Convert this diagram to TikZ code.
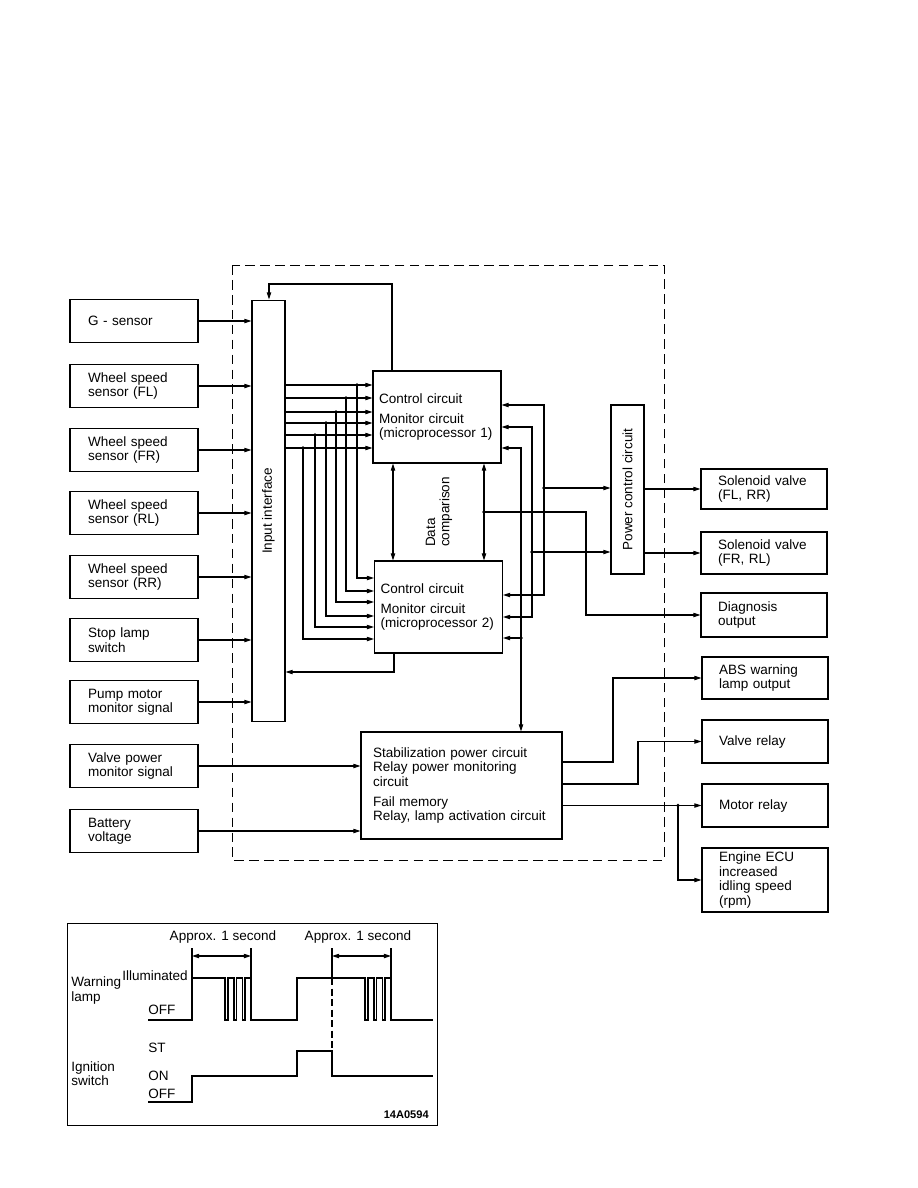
\documentclass[tikz,border=0pt]{standalone}
\usepackage{fontspec}
\setmainfont{Liberation Sans}
\usetikzlibrary{arrows.meta}

\tikzset{
  box/.style={draw, align=left, inner ysep=0pt},
  lbox/.style={box, minimum height=0.86cm, text width=1.84cm, inner xsep=0.36cm},
  rbox/.style={box, text width=1.84cm, inner xsep=0.34cm},
  mbox/.style={box, minimum width=2.56cm, minimum height=1.84cm, text width=2.32cm, inner xsep=0.12cm},
  bar/.style={draw, minimum width=0.66cm, inner sep=0pt},
  lbl/.style={inner sep=1pt},
}

\begin{document}
\begin{tikzpicture}[x=0.02cm, y=-0.02cm, line width=0.6pt,
    >={Triangle[length=4pt,width=2.4pt]}, font=\fontsize{7.7}{8.2}\selectfont]
    \useasboundingbox (0,0) rectangle (918,1188);
    % 控制单元虚线框
    \draw[line width=0.5pt, dash pattern=on 5.5pt off 3pt] (232,265) rectangle (664,860);

    % 输入
    \node[lbox] (gs) at (134,321) {G - sensor};
    \node[lbox] (fl) at (134,386) {Wheel speed\\sensor (FL)};
    \node[lbox] (fr) at (134,450) {Wheel speed\\sensor (FR)};
    \node[lbox] (rl) at (134,513) {Wheel speed\\sensor (RL)};
    \node[lbox] (rr) at (134,577) {Wheel speed\\sensor (RR)};
    \node[lbox] (sl) at (134,640) {Stop lamp\\switch};
    \node[lbox] (pm) at (134,702) {Pump motor\\monitor signal};
    \node[lbox] (vp) at (134,766) {Valve power\\monitor signal};
    \node[lbox] (bv) at (134,831) {Battery\\voltage};

    \node[bar, minimum height=8.44cm] (ii) at (268.5,511) {};
    \node[rotate=90] (iitxt) at (ii) {Input interface};
    \foreach \s in {gs,fl,fr,rl,rr,sl,pm}
        \draw[->] (\s.east) -- (\s.east -| ii.west);

    % 两个微处理器
    \node[mbox] (mp1) at (437,417) {Control circuit\\[3pt]Monitor circuit\\(microprocessor 1)};
    \node[mbox] (mp2) at (438.5,607) {Control circuit\\[3pt]Monitor circuit\\(microprocessor 2)};
    \foreach \ya/\xb/\yb in {385/357/578, 398/346/591, 412/336/602, 423/326/616, 435/315/627, 448/303/639} {
        \draw[->] (ii.east |- 0,\ya) -- (mp1.west |- 0,\ya);
        \draw[->] (\xb,\ya) -- (\xb,\yb) -- (mp2.west |- 0,\yb);
        \fill (\xb,\ya) circle (1.1pt);
    }
    \draw[->] (392,0 |- mp1.north) -- (392,284) -| (269,0 |- ii.north);
    \draw[->] (394,0 |- mp2.south) |- (ii.east |- 0,672);

    \draw[<->] (393,0 |- mp1.south) -- (393,0 |- mp2.north);
    \draw[<->] (484,0 |- mp1.south) -- (484,0 |- mp2.north);
    \node[rotate=90, align=left] (dc) at (439,512) {Data\\comparison};

    % 输出
    \node[bar, minimum height=3.38cm] (pc) at (627.5,489.5) {};
    \node[rotate=90] (pctxt) at (pc) {Power control circuit};
    \node[rbox, minimum height=0.80cm] (sv1) at (764,489) {Solenoid valve\\(FL, RR)};
    \node[rbox, minimum height=0.84cm] (sv2) at (764,553) {Solenoid valve\\(FR, RL)};
    \node[rbox, minimum height=0.88cm] (dg) at (764,615) {Diagnosis\\output};
    \node[rbox, minimum height=0.84cm] (ab) at (765,678) {ABS warning\\lamp output};
    \node[rbox, minimum height=0.86cm] (vr) at (765,741.5) {Valve relay};
    \node[rbox, minimum height=0.86cm] (mr) at (765,805.5) {Motor relay};
    \node[rbox, minimum height=1.28cm] (ec) at (765,880) {Engine ECU\\increased\\idling speed\\(rpm)};

    \node[box, minimum height=2.14cm, text width=3.54cm, inner xsep=0.24cm] (st) at (461.5,785.5)
        {Stabilization power circuit\\Relay power monitoring\\circuit\\[3pt]Fail memory\\Relay, lamp activation circuit};

    \draw[<->] (mp1.east |- 0,405) -- (544,405) -- (544,595) -- (mp2.east |- 0,595);
    \draw[<->] (mp1.east |- 0,427) -- (532,427) -- (532,617) -- (mp2.east |- 0,617);
    \draw[<->] (mp1.east |- 0,448) -- (521,448) -- (521,0 |- st.north);
    \draw[->] (521,638) -- (mp2.east |- 0,638);
    \fill (521,638) circle (1.1pt);
    \draw[->] (544,488) -- (pc.west |- 0,488);
    \fill (544,488) circle (1.1pt);
    \draw[->] (532,552) -- (pc.west |- 0,552);
    \fill (532,552) circle (1.1pt);
    \draw[->] (484,512) -- (586,512) |- (dg.west);
    \fill (484,512) circle (1.1pt);
    \draw[->] (pc.east |- sv1) -- (sv1.west);
    \draw[->] (pc.east |- sv2) -- (sv2.west);

    \draw[->] (vp.east) -- (vp.east -| st.west);
    \draw[->] (bv.east) -- (bv.east -| st.west);
    \draw[->] (st.east |- 0,762) -- (613,762) |- (ab.west);
    \draw[->] (st.east |- 0,784) -- (638,784) |- (vr.west);
    \draw[->] (st.east |- mr.west) -- (mr.west);
    \fill (678,805.5) circle (1.1pt);
    \draw[->] (678,805.5) |- (ec.west);

    % 时序图
    \draw[line width=0.5pt] (67,923) rectangle (437,1125);
    \draw (148,1020) -| (192,978) -| (225,1020) -| (228,978) -| (234,1020) -| (236.5,978) -| (242.5,1020)
        -| (245,978) -| (251,1020) -| (297,978) -| (365,1020) -| (368,978) -| (374,1020) -| (376.5,978)
        -| (382.5,1020) -| (385,978) -| (391,1020) -- (433,1020);
    \draw (148,1102) -| (192,1076) -| (297,1051) -| (332,1076) -- (433,1076);

    \draw (192,948) -- (192,978);
    \draw (251,948) -- (251,978);
    \draw[<->] (192,956) -- (251,956);
    \draw (332,948) -- (332,978);
    \draw[dash pattern=on 4pt off 2pt] (332,978) -- (332,1051);
    \draw (391,948) -- (391,978);
    \draw[<->] (332,956) -- (391,956);
    \node (ap1) at (223,937) {Approx. 1 second};
    \node (ap2) at (358,937) {Approx. 1 second};

    \node[lbl, anchor=west, align=left] (wl) at (69,990.5) {Warning\\lamp};
    \node[lbl, anchor=east] (ill) at (190,976) {Illuminated};
    \node[lbl, anchor=west] (off1) at (146,1010) {OFF};
    \node[lbl, anchor=west] (stl) at (146,1048) {ST};
    \node[lbl, anchor=west, align=left] (is) at (69,1073.5) {Ignition\\switch};
    \node[lbl, anchor=west] (onl) at (146,1076) {ON};
    \node[lbl, anchor=west] (off2) at (146,1094) {OFF};
    \node[lbl, anchor=east, font=\fontsize{6.3}{7}\selectfont\bfseries] (code) at (431,1115) {14A0594};
\end{tikzpicture}
\end{document}
